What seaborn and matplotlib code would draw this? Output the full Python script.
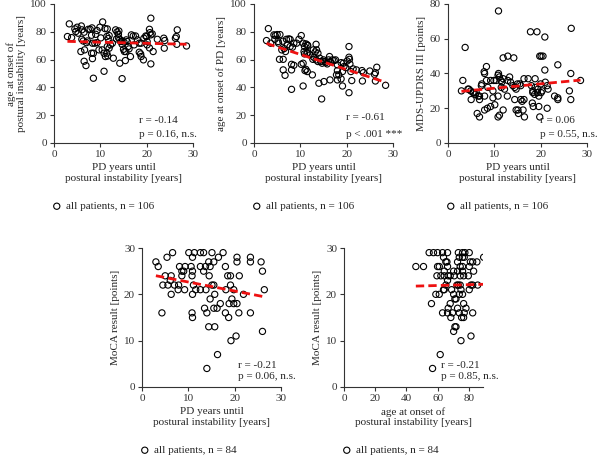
import numpy as np
import matplotlib
matplotlib.use('Agg')
import matplotlib.pyplot as plt
import seaborn as sns

# panel 1: PD years until postural instability vs age at onset of PI
pi_years_a = [3.3, 2.9, 3.8, 4.5, 5.0, 4.7, 5.2, 5.9, 6.0, 6.5, 7.4, 7.8, 8.2, 8.1, 9.0, 9.3, 9.9, 10.5, 11.0, 11.5,
              11.9, 11.4, 11.7, 10.1, 9.3, 8.3, 8.8, 7.2, 6.3, 6.0, 7.0, 5.8, 6.6, 8.1, 8.3, 8.5, 6.5, 6.9, 10.4, 10.8,
              11.1, 11.4, 11.5, 11.9, 12.8, 11.6, 13.3, 13.6, 13.9, 14.0, 13.9, 13.5, 14.2, 14.4, 14.7, 14.7, 15.1, 15.6,
              15.8, 15.0, 15.2, 15.5, 16.0, 16.2, 14.2, 15.4, 16.5, 16.7, 17.1, 17.6, 18.0, 18.4, 18.8, 18.4, 18.7, 18.8,
              19.3, 19.4, 19.8, 20.0, 20.1, 20.9, 20.6, 20.7, 20.9, 21.2, 20.1, 20.6, 20.9, 21.4, 22.3, 23.7, 23.9, 23.8,
              26.2, 26.4, 26.6, 26.5, 28.6, 8.5, 10.8, 14.7, 9.7, 12.2, 12.6, 17.3]
onset_pi_age = [85.7, 76.6, 75.8, 82.1, 83.3, 80.2, 79.0, 84.2, 81.4, 79.7, 81.8, 81.8, 82.8, 77.5, 78.2, 80.9, 83.3,
                87.1, 82.3, 82.1, 77.3, 76.6, 75.1, 75.6, 72.2, 71.8, 71.8, 73.4, 73.4, 74.6, 72.2, 65.8, 67.0, 64.6,
                60.7, 64.6, 58.8, 55.7, 67.0, 64.6, 62.2, 64.6, 69.4, 68.2, 61.0, 62.6, 81.4, 79.9, 75.8, 80.6, 78.2,
                74.9, 74.6, 73.0, 73.4, 71.0, 72.7, 74.2, 73.0, 67.4, 65.8, 65.8, 69.4, 67.7, 57.4, 59.3, 62.2, 77.8,
                77.0, 77.0, 74.2, 71.8, 71.8, 65.3, 64.1, 62.2, 59.8, 75.4, 77.0, 76.6, 73.0, 77.8, 81.8, 79.4, 89.8,
                78.5, 70.6, 68.4, 56.9, 65.8, 74.6, 75.4, 73.7, 68.2, 75.4, 76.6, 81.4, 71.0, 69.8, 46.6, 51.6, 46.3,
                67.0, 70.6, 71.8, 70.6]

# panel 2: PD years until PI vs age at onset of PD
pi_years_b = [3.1, 2.7, 3.6, 4.3, 4.6, 5.0, 5.6, 4.5, 5.2, 5.3, 6.2, 7.0, 7.5, 7.8, 7.2, 6.5, 6.0, 6.8, 7.8, 8.3, 8.6,
              9.2, 9.7, 10.2, 10.6, 10.9, 11.2, 11.5, 11.6, 10.8, 10.9, 11.4, 11.6, 12.1, 12.8, 13.4, 13.5, 13.2, 13.8,
              12.7, 12.9, 13.4, 13.8, 14.2, 14.4, 14.7, 15.0, 15.2, 15.5, 15.8, 16.1, 16.3, 16.5, 16.9, 17.3, 17.6,
              18.0, 18.0, 18.3, 18.8, 19.3, 19.4, 19.8, 20.1, 20.5, 20.6, 20.7, 20.5, 20.9, 21.4, 22.1, 23.3, 23.6,
              23.4, 25.0, 26.0, 26.2, 26.5, 26.2, 28.4, 5.5, 6.3, 6.3, 6.7, 8.1, 11.0, 11.2, 11.5, 10.6, 10.2, 8.6,
              8.1, 12.6, 14.0, 15.1, 16.4, 18.0, 18.8, 19.1, 17.8, 19.1, 21.1, 8.1, 10.6, 14.6, 20.5]
onset_pd_age = [82.3, 73.7, 71.8, 77.8, 77.3, 78.0, 78.0, 74.6, 73.0, 71.8, 73.2, 74.6, 74.9, 74.6, 70.6, 67.9, 67.0,
                65.8, 69.4, 68.9, 71.8, 71.8, 74.6, 77.3, 71.8, 69.4, 71.3, 70.6, 70.1, 65.8, 64.1, 64.6, 65.0, 63.4,
                67.0, 71.0, 67.0, 65.5, 64.6, 60.2, 61.7, 59.8, 58.6, 61.0, 58.6, 57.4, 59.8, 58.6, 57.8, 56.9, 59.8,
                62.2, 58.6, 59.8, 59.3, 59.8, 56.2, 52.1, 49.0, 57.8, 57.4, 55.0, 54.2, 59.0, 61.7, 60.2, 56.9, 69.4,
                51.4, 53.3, 52.6, 52.1, 50.6, 44.6, 51.8, 49.4, 50.6, 54.5, 44.6, 41.5, 60.2, 60.2, 52.6, 48.7, 52.6,
                52.1, 53.0, 51.4, 57.4, 56.6, 55.9, 56.6, 49.0, 43.0, 44.2, 45.4, 45.4, 46.1, 41.0, 49.0, 51.4, 44.9,
                38.6, 41.0, 31.7, 36.2]

# panel 3: PD years until PI vs MDS-UPDRS III
pi_years_c = [10.9, 3.7, 17.8, 19.2, 20.9, 26.6, 20.1, 20.5, 19.8, 11.9, 12.9, 14.2, 23.7, 8.3, 7.8, 7.9, 20.9, 26.5,
              3.2, 2.9, 4.5, 4.9, 5.4, 5.6, 5.9, 6.1, 6.5, 6.8, 5.0, 7.2, 7.3, 8.3, 9.2, 9.9, 10.4, 10.8, 10.9, 11.1,
              11.4, 11.6, 11.9, 11.5, 12.2, 12.9, 13.3, 13.5, 14.0, 14.4, 14.7, 15.0, 15.5, 15.7, 16.4, 17.3, 18.8,
              20.0, 21.0, 21.4, 18.8, 19.4, 18.0, 18.3, 18.3, 18.7, 19.3, 19.6, 20.1, 20.3, 21.6, 23.0, 23.7, 23.7,
              26.2, 26.5, 28.6, 6.8, 7.9, 9.7, 10.8, 12.8, 14.4, 15.7, 16.0, 16.4, 18.2, 18.4, 19.6, 21.4, 7.9, 8.5,
              9.2, 10.1, 11.9, 14.7, 15.1, 15.2, 16.2, 16.5, 10.8, 11.1, 6.3, 6.8, 9.7, 19.8, 4.3, 8.6]
updrs3 = [76, 55, 64, 64, 61, 66, 50, 50, 50, 49, 50, 49, 45, 44, 41, 40, 42, 40, 36, 30, 31, 30, 29, 29, 28, 29, 27,
          25, 25, 33, 34, 36, 36, 36, 36, 39, 40, 38, 36, 35, 37, 32, 31, 36, 38, 35, 33, 32, 31, 34, 34, 33, 37, 37,
          37, 34, 35, 33, 32, 31, 33, 30, 29, 28, 29, 27, 29, 30, 31, 27, 26, 25, 30, 25, 36, 27, 27, 26, 27, 27, 25,
          25, 24, 25, 23, 21, 21, 20, 19, 20, 21, 22, 19, 19, 19, 17, 19, 15, 15, 16, 17, 15, 30, 15, 31, 32]

# panel 4: PD years until PI vs MoCA
moca_pi_years = [3.0, 3.5, 5.4, 6.6, 10.1, 11.3, 12.6, 13.3, 15.1, 17.5, 10.9, 20.5, 23.4, 20.5, 23.4, 25.7, 14.4,
                 15.5, 16.5, 8.1, 8.6, 9.3, 10.6, 12.6, 13.7, 14.7, 18.0, 26.0, 9.0, 10.9, 13.3, 8.6, 10.8, 14.5, 18.5,
                 19.1, 21.0, 5.0, 6.3, 6.1, 4.5, 5.6, 7.0, 7.9, 11.1, 11.6, 12.6, 15.1, 15.5, 19.1, 7.8, 9.2, 10.9, 13.8,
                 15.7, 18.1, 19.8, 21.9, 6.3, 26.4, 14.7, 19.4, 16.9, 18.8, 19.8, 20.5, 15.5, 16.2, 13.5, 14.0, 4.3,
                 10.8, 10.9, 18.0, 20.9, 23.4, 18.7, 14.4, 15.7, 26.0, 19.2, 20.3, 16.3, 14.0]
moca_a = [27, 26, 28, 29, 29, 29, 29, 29, 29, 29, 28, 28, 28, 27, 27, 27, 27, 27, 28, 26, 25, 26, 26, 26, 26, 26, 26,
          25, 25, 25, 25, 24, 24, 24, 24, 24, 24, 24, 24, 23, 22, 22, 22, 22, 22, 21, 21, 22, 22, 22, 21, 21, 20, 21,
          20, 21, 21, 20, 20, 21, 19, 19, 18, 18, 18, 18, 17, 17, 17, 16, 16, 16, 15, 16, 16, 16, 15, 13, 13, 12, 10,
          11, 7, 4]

# panel 5: age at onset of PI vs MoCA
moca_onset_pi_age = [54.5, 57.3, 59.9, 63.1, 66.3, 73.2, 75.9, 77.4, 80.2,
                     63.7, 73.8, 75.9, 77.0, 89.4,
                     65.2, 65.9, 72.7, 80.9, 82.4, 85.1,
                     46.0, 50.9, 59.9, 61.0, 66.3, 74.4, 75.9, 80.2,
                     64.2, 70.2, 72.7, 75.9, 83.0,
                     59.5, 62.0, 64.2, 66.7, 68.0, 70.6, 74.4, 76.6, 79.6,
                     66.3,
                     72.3, 73.2, 74.4, 81.3, 82.4, 85.6, 65.2,
                     64.2, 63.7, 68.9, 74.9, 80.2,
                     58.8, 61.0, 70.2, 73.8, 75.9,
                     71.0, 71.7,
                     56.0, 68.0, 76.6,
                     66.7, 72.7, 78.1,
                     63.1, 66.3, 69.5, 73.8, 77.0, 82.4,
                     75.3, 76.6, 68.4,
                     71.0, 71.7, 70.2,
                     74.9, 81.3, 61.6, 56.7]
moca_b = [29] * 9 + [28] * 5 + [27] * 6 + [26] * 8 + [25] * 5 + [24] * 9 + [23] + [22] * 7 + [21] * 5 + \
         [20] * 5 + [19] * 2 + [18] * 3 + [17] * 3 + [16] * 6 + [15] * 3 + [13, 13, 12, 10, 11, 7, 4]

sns.set_style('ticks')
plt.rcParams['font.family'] = ['Liberation Serif', 'DejaVu Serif']
plt.rcParams['font.size'] = 8
plt.rcParams['axes.edgecolor'] = '#333333'
plt.rcParams['xtick.color'] = '#333333'
plt.rcParams['ytick.color'] = '#333333'
plt.rcParams['xtick.major.size'] = 3
plt.rcParams['ytick.major.size'] = 3

fig = plt.figure(figsize=(6.0, 4.57), dpi=100)
W, H = 600.0, 457.0


def panel(px_left, px_top, x, y, xlim, ylim, xticks, yticks, xlabel, ylabel, stats, n, stat_x, stat_y):
    ax = fig.add_axes([px_left / W, 1 - (px_top + 139) / H, 139 / W, 139 / H])
    sns.regplot(x=np.array(x), y=np.array(y), ax=ax, ci=None, truncate=True,
                label=f'all patients, n = {n}',
                scatter_kws=dict(s=20, facecolors='none', color='black', linewidths=0.8, alpha=1, zorder=2),
                line_kws=dict(color='#ee1111', ls=(0, (3, 1.5)), lw=2, zorder=3))
    ax.set_xlim(*xlim)
    ax.set_ylim(*ylim)
    ax.set_xticks(xticks)
    ax.set_yticks(yticks)
    ax.set_xlabel(xlabel, labelpad=3)
    ax.set_ylabel(ylabel, labelpad=3)
    ax.tick_params(labelsize=8, pad=2, width=0.8)
    for s in ['top', 'right']:
        ax.spines[s].set_visible(False)
    for s in ['left', 'bottom']:
        ax.spines[s].set_linewidth(0.8)
    ax.text(stat_x, stat_y[0], stats[0], transform=ax.transAxes, va='center', ha='left')
    ax.text(stat_x, stat_y[1], stats[1], transform=ax.transAxes, va='center', ha='left')
    ax.legend(loc='center left', bbox_to_anchor=(-0.02, -0.455), frameon=False, handletextpad=0.3,
              borderpad=0, borderaxespad=0, handlelength=1.0, fontsize=8)
    return ax


xl_pi = 'PD years until\npostural instability [years]'
xl_age = 'age at onset of\npostural instability [years]'

panel(54, 4, pi_years_a, onset_pi_age, (0, 30), (0, 100), [0, 10, 20, 30], range(0, 101, 20),
      xl_pi, 'age at onset of\npostural instability [years]', ('r = -0.14', 'p = 0.16, n.s.'), 106,
      0.61, (0.165, 0.058))
panel(254, 4, pi_years_b, onset_pd_age, (0, 30), (0, 100), [0, 10, 20, 30], range(0, 101, 20),
      xl_pi, 'age at onset of PD [years]', ('r = -0.61', 'p < .001 ***'), 106,
      0.66, (0.18, 0.058))
panel(448, 4, pi_years_c, updrs3, (0, 30), (0, 80), [0, 10, 20, 30], range(0, 81, 20),
      xl_pi, 'MDS-UPDRS III [points]', ('r = 0.06', 'p = 0.55, n.s.'), 106,
      0.665, (0.165, 0.058))
panel(142, 248, moca_pi_years, moca_a, (0, 30), (0, 30), [0, 10, 20, 30], [0, 10, 20, 30],
      xl_pi, 'MoCA result [points]', ('r = -0.21', 'p = 0.06, n.s.'), 84,
      0.69, (0.158, 0.072))
panel(344, 248, moca_onset_pi_age, moca_b, (0, 89), (0, 30), [0, 20, 40, 60, 80], [0, 10, 20, 30],
      xl_age, 'MoCA result [points]', ('r = -0.21', 'p = 0.85, n.s.'), 84,
      0.70, (0.158, 0.072))

fig.savefig('out.png', dpi=100)
